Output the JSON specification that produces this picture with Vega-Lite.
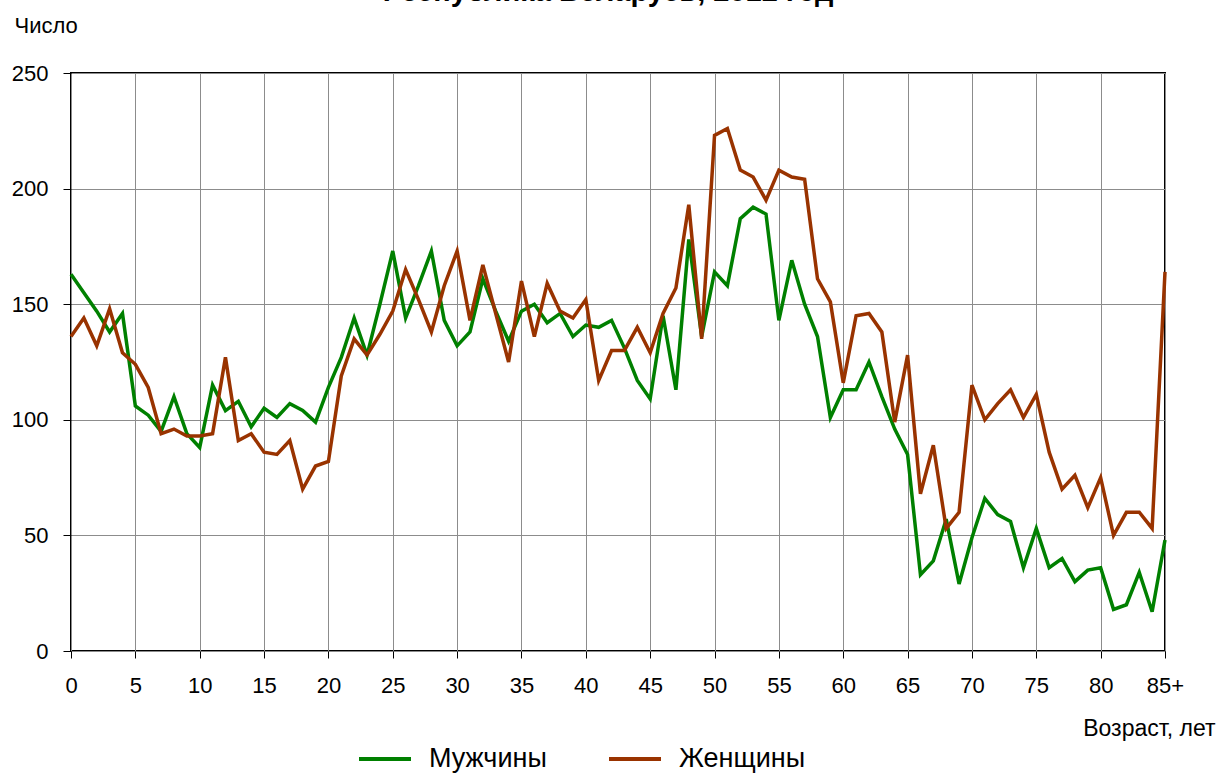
{
"$schema": "https://vega.github.io/schema/vega-lite/v6.json",
"width": 1094,
"height": 578,
"autosize": {"type": "none"},
"padding": {"left": 71, "top": 73, "right": 56, "bottom": 122},
"background": "white",
"title": {"text": "Республика Беларусь, 2012 год", "font": "Liberation Sans", "fontSize": 29, "fontWeight": "bold", "color": "black", "anchor": "middle", "baseline": "alphabetic", "offset": 0, "dy": 16, "dx": -10},
"config": {"view": {"stroke": "black", "strokeWidth": 2}, "font": "Liberation Sans"},
"datasets": {"pop": [
{"a":0,"s":"Мужчины","v":163},{"a":1,"s":"Мужчины","v":155},{"a":2,"s":"Мужчины","v":147},{"a":3,"s":"Мужчины","v":138},{"a":4,"s":"Мужчины","v":146},{"a":5,"s":"Мужчины","v":106},{"a":6,"s":"Мужчины","v":102},{"a":7,"s":"Мужчины","v":95},{"a":8,"s":"Мужчины","v":110},{"a":9,"s":"Мужчины","v":94},
{"a":10,"s":"Мужчины","v":88},{"a":11,"s":"Мужчины","v":115},{"a":12,"s":"Мужчины","v":104},{"a":13,"s":"Мужчины","v":108},{"a":14,"s":"Мужчины","v":97},{"a":15,"s":"Мужчины","v":105},{"a":16,"s":"Мужчины","v":101},{"a":17,"s":"Мужчины","v":107},{"a":18,"s":"Мужчины","v":104},{"a":19,"s":"Мужчины","v":99},
{"a":20,"s":"Мужчины","v":114},{"a":21,"s":"Мужчины","v":127},{"a":22,"s":"Мужчины","v":144},{"a":23,"s":"Мужчины","v":128},{"a":24,"s":"Мужчины","v":150},{"a":25,"s":"Мужчины","v":173},{"a":26,"s":"Мужчины","v":144},{"a":27,"s":"Мужчины","v":158},{"a":28,"s":"Мужчины","v":173},{"a":29,"s":"Мужчины","v":143},
{"a":30,"s":"Мужчины","v":132},{"a":31,"s":"Мужчины","v":138},{"a":32,"s":"Мужчины","v":161},{"a":33,"s":"Мужчины","v":147},{"a":34,"s":"Мужчины","v":134},{"a":35,"s":"Мужчины","v":147},{"a":36,"s":"Мужчины","v":150},{"a":37,"s":"Мужчины","v":142},{"a":38,"s":"Мужчины","v":146},{"a":39,"s":"Мужчины","v":136},
{"a":40,"s":"Мужчины","v":141},{"a":41,"s":"Мужчины","v":140},{"a":42,"s":"Мужчины","v":143},{"a":43,"s":"Мужчины","v":131},{"a":44,"s":"Мужчины","v":117},{"a":45,"s":"Мужчины","v":109},{"a":46,"s":"Мужчины","v":145},{"a":47,"s":"Мужчины","v":113},{"a":48,"s":"Мужчины","v":178},{"a":49,"s":"Мужчины","v":136},
{"a":50,"s":"Мужчины","v":164},{"a":51,"s":"Мужчины","v":158},{"a":52,"s":"Мужчины","v":187},{"a":53,"s":"Мужчины","v":192},{"a":54,"s":"Мужчины","v":189},{"a":55,"s":"Мужчины","v":143},{"a":56,"s":"Мужчины","v":169},{"a":57,"s":"Мужчины","v":150},{"a":58,"s":"Мужчины","v":136},{"a":59,"s":"Мужчины","v":101},
{"a":60,"s":"Мужчины","v":113},{"a":61,"s":"Мужчины","v":113},{"a":62,"s":"Мужчины","v":125},{"a":63,"s":"Мужчины","v":110},{"a":64,"s":"Мужчины","v":96},{"a":65,"s":"Мужчины","v":85},{"a":66,"s":"Мужчины","v":33},{"a":67,"s":"Мужчины","v":39},{"a":68,"s":"Мужчины","v":57},{"a":69,"s":"Мужчины","v":29},
{"a":70,"s":"Мужчины","v":49},{"a":71,"s":"Мужчины","v":66},{"a":72,"s":"Мужчины","v":59},{"a":73,"s":"Мужчины","v":56},{"a":74,"s":"Мужчины","v":36},{"a":75,"s":"Мужчины","v":53},{"a":76,"s":"Мужчины","v":36},{"a":77,"s":"Мужчины","v":40},{"a":78,"s":"Мужчины","v":30},{"a":79,"s":"Мужчины","v":35},
{"a":80,"s":"Мужчины","v":36},{"a":81,"s":"Мужчины","v":18},{"a":82,"s":"Мужчины","v":20},{"a":83,"s":"Мужчины","v":34},{"a":84,"s":"Мужчины","v":17},{"a":85,"s":"Мужчины","v":48},
{"a":0,"s":"Женщины","v":136},{"a":1,"s":"Женщины","v":144},{"a":2,"s":"Женщины","v":132},{"a":3,"s":"Женщины","v":148},{"a":4,"s":"Женщины","v":129},{"a":5,"s":"Женщины","v":124},{"a":6,"s":"Женщины","v":114},{"a":7,"s":"Женщины","v":94},{"a":8,"s":"Женщины","v":96},{"a":9,"s":"Женщины","v":93},
{"a":10,"s":"Женщины","v":93},{"a":11,"s":"Женщины","v":94},{"a":12,"s":"Женщины","v":127},{"a":13,"s":"Женщины","v":91},{"a":14,"s":"Женщины","v":94},{"a":15,"s":"Женщины","v":86},{"a":16,"s":"Женщины","v":85},{"a":17,"s":"Женщины","v":91},{"a":18,"s":"Женщины","v":70},{"a":19,"s":"Женщины","v":80},
{"a":20,"s":"Женщины","v":82},{"a":21,"s":"Женщины","v":119},{"a":22,"s":"Женщины","v":135},{"a":23,"s":"Женщины","v":128},{"a":24,"s":"Женщины","v":137},{"a":25,"s":"Женщины","v":147},{"a":26,"s":"Женщины","v":165},{"a":27,"s":"Женщины","v":152},{"a":28,"s":"Женщины","v":138},{"a":29,"s":"Женщины","v":158},
{"a":30,"s":"Женщины","v":173},{"a":31,"s":"Женщины","v":143},{"a":32,"s":"Женщины","v":167},{"a":33,"s":"Женщины","v":146},{"a":34,"s":"Женщины","v":125},{"a":35,"s":"Женщины","v":160},{"a":36,"s":"Женщины","v":136},{"a":37,"s":"Женщины","v":159},{"a":38,"s":"Женщины","v":147},{"a":39,"s":"Женщины","v":144},
{"a":40,"s":"Женщины","v":152},{"a":41,"s":"Женщины","v":117},{"a":42,"s":"Женщины","v":130},{"a":43,"s":"Женщины","v":130},{"a":44,"s":"Женщины","v":140},{"a":45,"s":"Женщины","v":129},{"a":46,"s":"Женщины","v":146},{"a":47,"s":"Женщины","v":157},{"a":48,"s":"Женщины","v":193},{"a":49,"s":"Женщины","v":135},
{"a":50,"s":"Женщины","v":223},{"a":51,"s":"Женщины","v":226},{"a":52,"s":"Женщины","v":208},{"a":53,"s":"Женщины","v":205},{"a":54,"s":"Женщины","v":195},{"a":55,"s":"Женщины","v":208},{"a":56,"s":"Женщины","v":205},{"a":57,"s":"Женщины","v":204},{"a":58,"s":"Женщины","v":161},{"a":59,"s":"Женщины","v":151},
{"a":60,"s":"Женщины","v":116},{"a":61,"s":"Женщины","v":145},{"a":62,"s":"Женщины","v":146},{"a":63,"s":"Женщины","v":138},{"a":64,"s":"Женщины","v":99},{"a":65,"s":"Женщины","v":128},{"a":66,"s":"Женщины","v":68},{"a":67,"s":"Женщины","v":89},{"a":68,"s":"Женщины","v":53},{"a":69,"s":"Женщины","v":60},
{"a":70,"s":"Женщины","v":115},{"a":71,"s":"Женщины","v":100},{"a":72,"s":"Женщины","v":107},{"a":73,"s":"Женщины","v":113},{"a":74,"s":"Женщины","v":101},{"a":75,"s":"Женщины","v":111},{"a":76,"s":"Женщины","v":86},{"a":77,"s":"Женщины","v":70},{"a":78,"s":"Женщины","v":76},{"a":79,"s":"Женщины","v":62},
{"a":80,"s":"Женщины","v":75},{"a":81,"s":"Женщины","v":50},{"a":82,"s":"Женщины","v":60},{"a":83,"s":"Женщины","v":60},{"a":84,"s":"Женщины","v":53},{"a":85,"s":"Женщины","v":164}
]},
"data": {"name": "pop"},
"mark": {"type": "line", "strokeWidth": 3.5},
"encoding": {
"x": {"field": "a", "type": "quantitative",
 "scale": {"domain": [0, 85], "nice": false, "zero": false},
 "axis": {"title": "Возраст, лет", "titleX": 1144, "titleY": 84, "titleAlign": "right", "titleBaseline": "alphabetic", "titleFontSize": 23, "titleFontWeight": "normal", "titleColor": "black",
  "values": [0,5,10,15,20,25,30,35,40,45,50,55,60,65,70,75,80,85],
  "labelExpr": "datum.value == 85 ? '85+' : datum.label",
  "labelFontSize": 22, "labelColor": "black", "labelPadding": 17, "tickSize": 7, "tickColor": "black", "tickWidth": 1,
  "domain": false, "grid": true, "gridColor": "#8c8c8c", "gridWidth": 1, "labelFlush": false}},
"y": {"field": "v", "type": "quantitative",
 "scale": {"domain": [0, 250], "nice": false},
 "axis": {"title": "Число", "titleAngle": 0, "titleX": -57, "titleY": -41, "titleAlign": "left", "titleBaseline": "alphabetic", "titleFontSize": 22, "titleFontWeight": "normal", "titleColor": "black",
  "values": [0,50,100,150,200,250],
  "labelFontSize": 22, "labelColor": "black", "labelPadding": 15, "tickSize": 8, "tickColor": "black", "tickWidth": 1,
  "domain": false, "grid": true, "gridColor": "#8c8c8c", "gridWidth": 1}},
"color": {"field": "s", "type": "nominal",
 "scale": {"domain": ["Мужчины", "Женщины"], "range": ["#008000", "#993300"]},
 "legend": {"title": null, "orient": "none", "legendX": 286, "legendY": 658, "direction": "horizontal", "symbolType": "stroke", "symbolSize": 2704, "symbolStrokeWidth": 4, "labelFontSize": 27, "labelColor": "black", "labelOffset": 16, "columnPadding": 54, "padding": 0}}
}
}
